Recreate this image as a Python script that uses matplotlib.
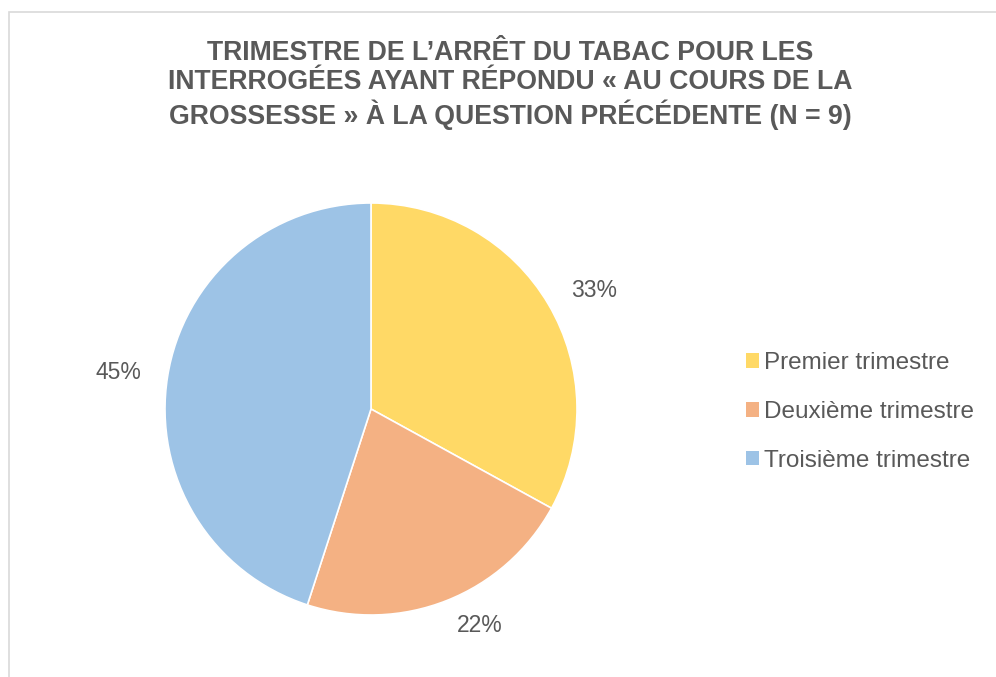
import matplotlib.pyplot as plt
from matplotlib.patches import Rectangle, Patch

plt.rcParams['font.family'] = ['Liberation Sans', 'DejaVu Sans']

labels = ["Premier trimestre", "Deuxième trimestre", "Troisième trimestre"]
values = [33, 22, 45]
colors = ["#FFD966", "#F4B183", "#9DC3E6"]
title = ("TRIMESTRE DE L’ARRÊT DU TABAC POUR LES\n"
         "INTERROGÉES AYANT RÉPONDU « AU COURS DE LA\n"
         "GROSSESSE » À LA QUESTION PRÉCÉDENTE (N = 9)")
grey = "#595959"

W, H = 996, 677
fig = plt.figure(figsize=(W / 100, H / 100), dpi=100)

# light chart border
fig.patches.append(Rectangle((9 / W, -0.1), 1.2, 1 - 12 / H + 0.1,
                             transform=fig.transFigure, fill=False,
                             edgecolor="#D9D9D9", linewidth=1.2))

cx, cy, r = 371, 409, 206
ax = fig.add_axes([(cx - r) / W, (H - cy - r) / H, 2 * r / W, 2 * r / H])
wedges, texts = ax.pie(values, colors=colors, startangle=90, counterclock=False,
                       radius=1, labels=[f"{v}%" for v in values],
                       labeldistance=1.13,
                       wedgeprops=dict(edgecolor="white", linewidth=1.2),
                       textprops=dict(fontsize=16.5, color=grey))
ax.set_xlim(-1, 1)
ax.set_ylim(-1, 1)

fig.text(510 / W, 1 - 85 / H, title, ha="center", va="center",
         fontsize=19.2, fontweight="bold", color=grey, linespacing=1.17)

handles = [Patch(facecolor=c, edgecolor="none") for c in colors]
leg = fig.legend(handles, labels, loc="center left",
                 bbox_to_anchor=(746 / W, 1 - 412 / H), frameon=False,
                 fontsize=17.5, handlelength=0.55, handleheight=0.55,
                 handletextpad=0.18, labelspacing=1.1,
                 borderpad=0, borderaxespad=0)
for t in leg.get_texts():
    t.set_color(grey)

fig.savefig("out.png", dpi=100)
